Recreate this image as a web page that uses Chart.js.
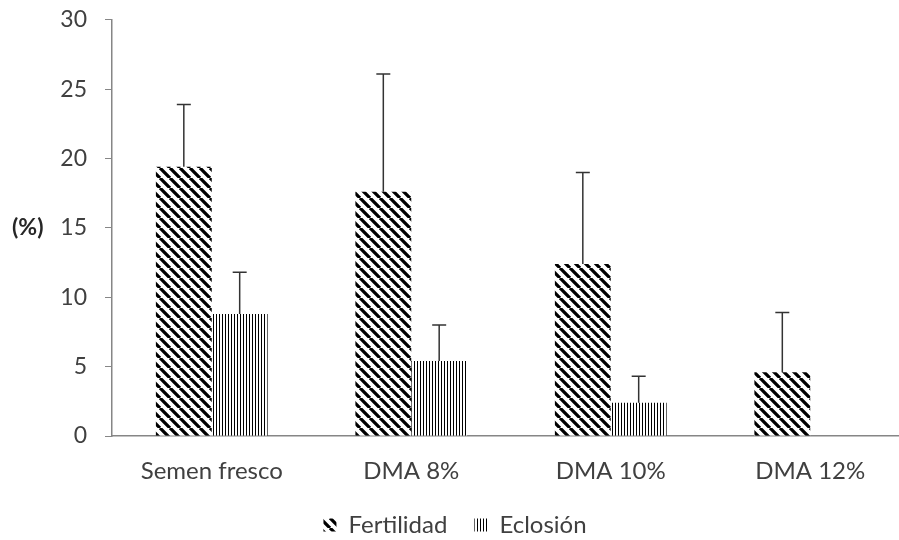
<!DOCTYPE html>
<html>
<head>
<meta charset="utf-8">
<script src="https://cdn.jsdelivr.net/npm/chart.js@4.4.0/dist/chart.umd.min.js"></script>
<style>
  html, body { margin: 0; padding: 0; background: #fff; overflow: hidden; }
  #wrap { position: relative; width: 910px; height: 540px; overflow: hidden; }
  #chart { position: absolute; left: 0; top: -12px; }
</style>
</head>
<body>
<div id="wrap"><canvas id="chart" width="910" height="552"></canvas></div>
<script>
// DATA
const categories = ["Semen fresco", "DMA 8%", "DMA 10%", "DMA 12%"]
const fertilidad = [19.4, 17.6, 12.4, 4.6]
const fertilidadErr = [4.5, 8.5, 6.6, 4.3]
const eclosion = [8.8, 5.4, 2.4, 0]
const eclosionErr = [3.0, 2.6, 1.9, 0]
const yMin = 0, yMax = 30, yStep = 5
const yTitle = "(%)"

const FONT = "Lato, 'Open Sans', sans-serif"
const TEXT = "#404040"
const AXIS = "#868686"

const canvas = document.getElementById("chart")
const ctx = canvas.getContext("2d")

// hatch patterns
function diagonalPattern() {
  const c = document.createElement("canvas")
  c.width = 10
  c.height = 10
  const g = c.getContext("2d")
  g.fillStyle = "#fff"
  g.fillRect(0, 0, 10, 10)
  g.strokeStyle = "#000"
  g.lineWidth = 3.3
  g.beginPath()
  ;[-10, 0, 10].forEach((k) => {
    g.moveTo(k, 0)
    g.lineTo(k + 10, 10)
  })
  g.stroke()
  return ctx.createPattern(c, "repeat")
}

function verticalPattern() {
  const c = document.createElement("canvas")
  c.width = 3
  c.height = 4
  const g = c.getContext("2d")
  g.fillStyle = "#fff"
  g.fillRect(0, 0, 3, 4)
  g.fillStyle = "#000"
  g.fillRect(0, 0, 1, 4)
  return ctx.createPattern(c, "repeat")
}

const errors = [fertilidadErr, eclosionErr]

// error bars, upper side only
const errorBars = {
  id: "errorBars",
  afterDatasetsDraw(chart) {
    const y = chart.scales.y
    const c = chart.ctx
    c.save()
    c.strokeStyle = "#333"
    c.lineWidth = 1.5
    chart.data.datasets.forEach((ds, i) => {
      chart.getDatasetMeta(i).data.forEach((bar, j) => {
        const err = errors[i][j]
        if (!err) return
        const top = y.getPixelForValue(ds.data[j] + err)
        c.beginPath()
        c.moveTo(bar.x, bar.y)
        c.lineTo(bar.x, top)
        c.moveTo(bar.x - 7, top)
        c.lineTo(bar.x + 7, top)
        c.stroke()
      })
    })
    c.restore()
  },
}

// horizontal y-axis title
const yTitlePlugin = {
  id: "yTitle",
  afterDraw(chart) {
    const c = chart.ctx
    c.save()
    c.font = "bold 23px " + FONT
    c.fillStyle = "#262626"
    c.textAlign = "left"
    c.textBaseline = "middle"
    c.fillText(yTitle, 12, chart.scales.y.getPixelForValue(15))
    c.restore()
  },
}

new Chart(ctx, {
  type: "bar",
  data: {
    labels: categories,
    datasets: [
      {
        label: "Fertilidad",
        data: fertilidad,
        backgroundColor: diagonalPattern(),
        borderWidth: 0,
      },
      {
        label: "Eclosión",
        data: eclosion,
        backgroundColor: verticalPattern(),
        borderWidth: 0,
      },
    ],
  },
  options: {
    responsive: false,
    animation: false,
    devicePixelRatio: 1,
    layout: { padding: { top: 0, right: 0, bottom: -7, left: 0 } },
    datasets: {
      bar: { categoryPercentage: 0.56, barPercentage: 1.0 },
    },
    plugins: {
      legend: {
        position: "bottom",
        labels: {
          font: { family: FONT, size: 24 },
          color: TEXT,
          boxWidth: 13,
          boxHeight: 13,
          padding: 27,
        },
      },
      tooltip: { enabled: false },
    },
    scales: {
      x: {
        afterFit(scale) {
          scale.height = 50
        },
        grid: { display: false, drawTicks: false },
        border: { display: true, color: AXIS, width: 1.5 },
        ticks: {
          font: { family: FONT, size: 24 },
          color: TEXT,
          padding: 21,
        },
      },
      y: {
        min: yMin,
        max: yMax,
        afterFit(scale) {
          scale.width = 112
        },
        grid: {
          drawOnChartArea: false,
          drawTicks: true,
          tickLength: 7,
          color: AXIS,
        },
        border: { display: true, color: AXIS, width: 1.5 },
        ticks: {
          stepSize: yStep,
          font: { family: FONT, size: 23 },
          color: TEXT,
          padding: 18,
        },
      },
    },
  },
  plugins: [errorBars, yTitlePlugin],
})
</script>
</body>
</html>
